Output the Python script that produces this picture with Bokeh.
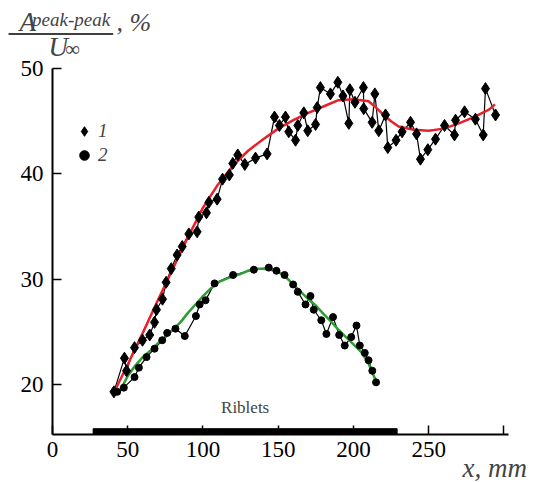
from bokeh.plotting import figure
from bokeh.models import Range1d, FixedTicker, Label, Arrow, Legend, LegendItem
from bokeh.embed import file_html
from bokeh.resources import INLINE

# ---- data ----
# series 1 (diamonds)
x1 = [40.8, 47.8, 49.2, 54.5, 59.8, 64.6, 67.8, 69.1, 73.1, 75.5, 78.9, 82.8, 86.2, 90.6,
      96.1, 97.2, 102.3, 103.9, 109.4, 113.0, 117.5, 119.8, 123.1, 127.8, 134.9, 142.6,
      147.5, 150.8, 154.8, 157.0, 161.5, 163.0, 167.0, 169.6, 174.8, 175.9, 178.0, 184.7,
      189.6, 193.0, 196.9, 197.6, 201.0, 206.6, 206.8, 212.4, 214.2, 216.8, 221.3, 222.8,
      228.3, 232.3, 237.9, 241.9, 244.5, 249.4, 254.5, 260.5, 267.1, 267.8, 273.8, 281.0,
      286.2, 287.7, 294.4]
y1 = [19.3, 22.5, 21.3, 23.5, 24.2, 24.7, 25.9, 27.1, 28.1, 29.7, 31.0, 32.3, 33.1, 34.3,
      34.5, 35.9, 36.3, 37.3, 37.6, 39.5, 39.9, 41.0, 41.8, 40.9, 41.5, 41.9,
      45.4, 44.6, 45.4, 44.0, 43.2, 44.6, 45.8, 44.1, 44.7, 46.3, 48.2, 47.6,
      48.7, 47.4, 44.8, 48.0, 46.8, 48.2, 46.2, 44.9, 47.6, 44.1, 45.6, 42.5,
      43.2, 44.0, 44.9, 43.8, 41.4, 42.3, 43.3, 44.6, 43.7, 45.1, 45.9, 45.2,
      43.7, 48.1, 45.6]

# series 2 (circles)
x2 = [43.0, 47.4, 54.5, 57.4, 62.5, 67.8, 72.9, 76.2, 81.7, 87.9, 95.3, 97.8, 101.7, 107.7,
      120.0, 133.8, 143.7, 148.8, 154.2, 159.9, 163.0, 168.1, 171.4, 173.6, 178.6, 182.0,
      186.4, 190.5, 194.2, 198.5, 202.0, 204.2, 207.5, 210.0, 212.5, 215.0]
y2 = [19.3, 19.7, 20.7, 21.6, 22.6, 23.4, 24.2, 24.9, 25.3, 24.6, 26.5, 27.6, 28.0, 29.6,
      30.4, 30.9, 31.1, 30.8, 30.4, 29.5, 28.8, 27.6, 28.4, 27.1, 26.1, 24.8,
      26.4, 24.7, 23.7, 24.5, 25.6, 23.7, 23.0, 22.3, 21.3, 20.2]

# fitted curves
xf1 = [40, 50, 60, 70, 80, 88, 90, 100, 110, 120, 130, 140, 150, 160, 170, 180, 190, 200,
       210, 215, 220, 225, 230, 240, 250, 260, 270, 280, 290, 294]
yf1 = [19.0, 21.9, 24.9, 28.0, 31.0, 33.4, 34.0, 36.8, 39.0, 40.8, 42.2, 43.3, 44.3, 45.1,
       45.8, 46.4, 47.0, 47.1, 46.9, 46.3, 45.6, 45.0, 44.5, 44.2, 44.1, 44.3, 44.8, 45.4,
       46.1, 46.6]
xf2 = [44, 50, 55, 60, 65, 70, 75, 80, 85, 90, 95, 100, 105, 110, 115, 120, 125, 130, 135,
       140, 145, 150, 155, 160, 165, 170, 175, 180, 185, 190, 195, 200, 205, 210, 215]
yf2 = [19.2, 20.8, 21.8, 22.6, 23.2, 23.9, 24.5, 25.2, 25.9, 26.8, 27.6, 28.4, 29.1, 29.7,
       30.0, 30.3, 30.5, 30.8, 31.0, 31.0, 30.9, 30.7, 30.2, 29.5, 28.8, 28.1, 27.5, 26.7,
       26.0, 25.2, 24.5, 23.8, 23.1, 22.0, 20.3]

riblets_start, riblets_end = 27, 229
x_ticks = [0, 50, 100, 150, 200, 250, 300]
y_ticks = [20, 30, 40, 50]
x_axis_bounds = (0, 303)
y_axis_bounds = (15.25, 50)

FONT = "Liberation Serif"

p = figure(width=539, height=482, output_backend="svg", toolbar_location=None,
           x_range=Range1d(-34.55, 323.6), y_range=Range1d(10.69, 56.47),
           min_border=0)
p.outline_line_color = None
p.xgrid.visible = False
p.ygrid.visible = False

for ax in (p.xaxis[0], p.yaxis[0]):
    ax.axis_line_width = 2
    ax.major_tick_line_width = 1.5
    ax.major_tick_in = 9
    ax.major_tick_out = 0
    ax.minor_tick_line_color = None
    ax.major_label_text_font = FONT
    ax.major_label_text_font_size = "23px"
    ax.major_label_text_color = "black"
    ax.axis_line_color = "black"
    ax.major_tick_line_color = "black"

p.xaxis.fixed_location = y_axis_bounds[0]
p.xaxis.bounds = x_axis_bounds
p.xaxis.ticker = FixedTicker(ticks=x_ticks)
p.xaxis.major_label_overrides = {300: ""}
p.xaxis.major_label_standoff = 8
p.yaxis.fixed_location = x_axis_bounds[0]
p.yaxis.bounds = y_axis_bounds
p.yaxis.ticker = FixedTicker(ticks=y_ticks)
p.yaxis.major_label_standoff = 9

# riblets bar
p.quad(left=[riblets_start], right=[riblets_end], bottom=[y_axis_bounds[0]], top=[15.8],
       color="black", line_color="black")
p.add_layout(Label(x=(riblets_start + riblets_end) / 2, y=17.78, text="Riblets",
                   text_font=FONT, text_font_size="17px", text_align="center",
                   text_baseline="alphabetic"))

# data lines
p.line(x1, y1, line_color="black", line_width=1.2)
p.line(x2, y2, line_color="black", line_width=1.2)
p.line(xf1, yf1, line_color="#e8202a", line_width=2.5)
p.line(xf2, yf2, line_color="#2e9e34", line_width=2.5)
r1 = p.scatter(x1, y1, marker="diamond", size=12, color="black")
r2 = p.scatter(x2, y2, marker="circle", size=7, color="black")

legend = Legend(items=[LegendItem(label="1", renderers=[r1]),
                       LegendItem(label="2", renderers=[r2])],
                location=(72, 315), padding=0, margin=0, spacing=0,
                glyph_width=24, glyph_height=24, label_standoff=2,
                label_text_font=FONT, label_text_font_style="italic",
                label_text_font_size="19px", label_height=24,
                border_line_color=None, background_fill_alpha=0)
p.add_layout(legend)

# y-axis label (fraction)
p.add_layout(Label(x=-22.0, y=54.41, text="A", text_font=FONT, text_font_style="italic",
                   text_font_size="27px", text_baseline="alphabetic"))
p.add_layout(Label(x=-13.6, y=54.66, text="peak-peak", text_font=FONT,
                   text_font_style="italic", text_font_size="19px",
                   text_baseline="alphabetic"))
p.add_layout(Label(x=42.5, y=54.34, text=", %", text_font=FONT, text_font_style="italic",
                   text_font_size="26px", text_baseline="alphabetic"))
p.add_layout(Arrow(start=None, end=None, x_start=-29.2, y_start=53.3, x_end=40.3,
                   y_end=53.3, line_width=1.5, line_color="black"))
p.add_layout(Label(x=-2.7, y=52.10, text="U", text_font=FONT, text_font_style="italic",
                   text_font_size="27px", text_baseline="alphabetic"))
p.add_layout(Label(x=8.3, y=51.91, text="\u221e", text_font=FONT,
                   text_font_size="21px", text_baseline="alphabetic"))

# x-axis label
p.add_layout(Label(x=272.4, y=12.02, text="x, mm", text_font=FONT, text_font_style="italic",
                   text_font_size="27px", text_baseline="alphabetic"))

open("out.html", "w").write(file_html(p, INLINE))
